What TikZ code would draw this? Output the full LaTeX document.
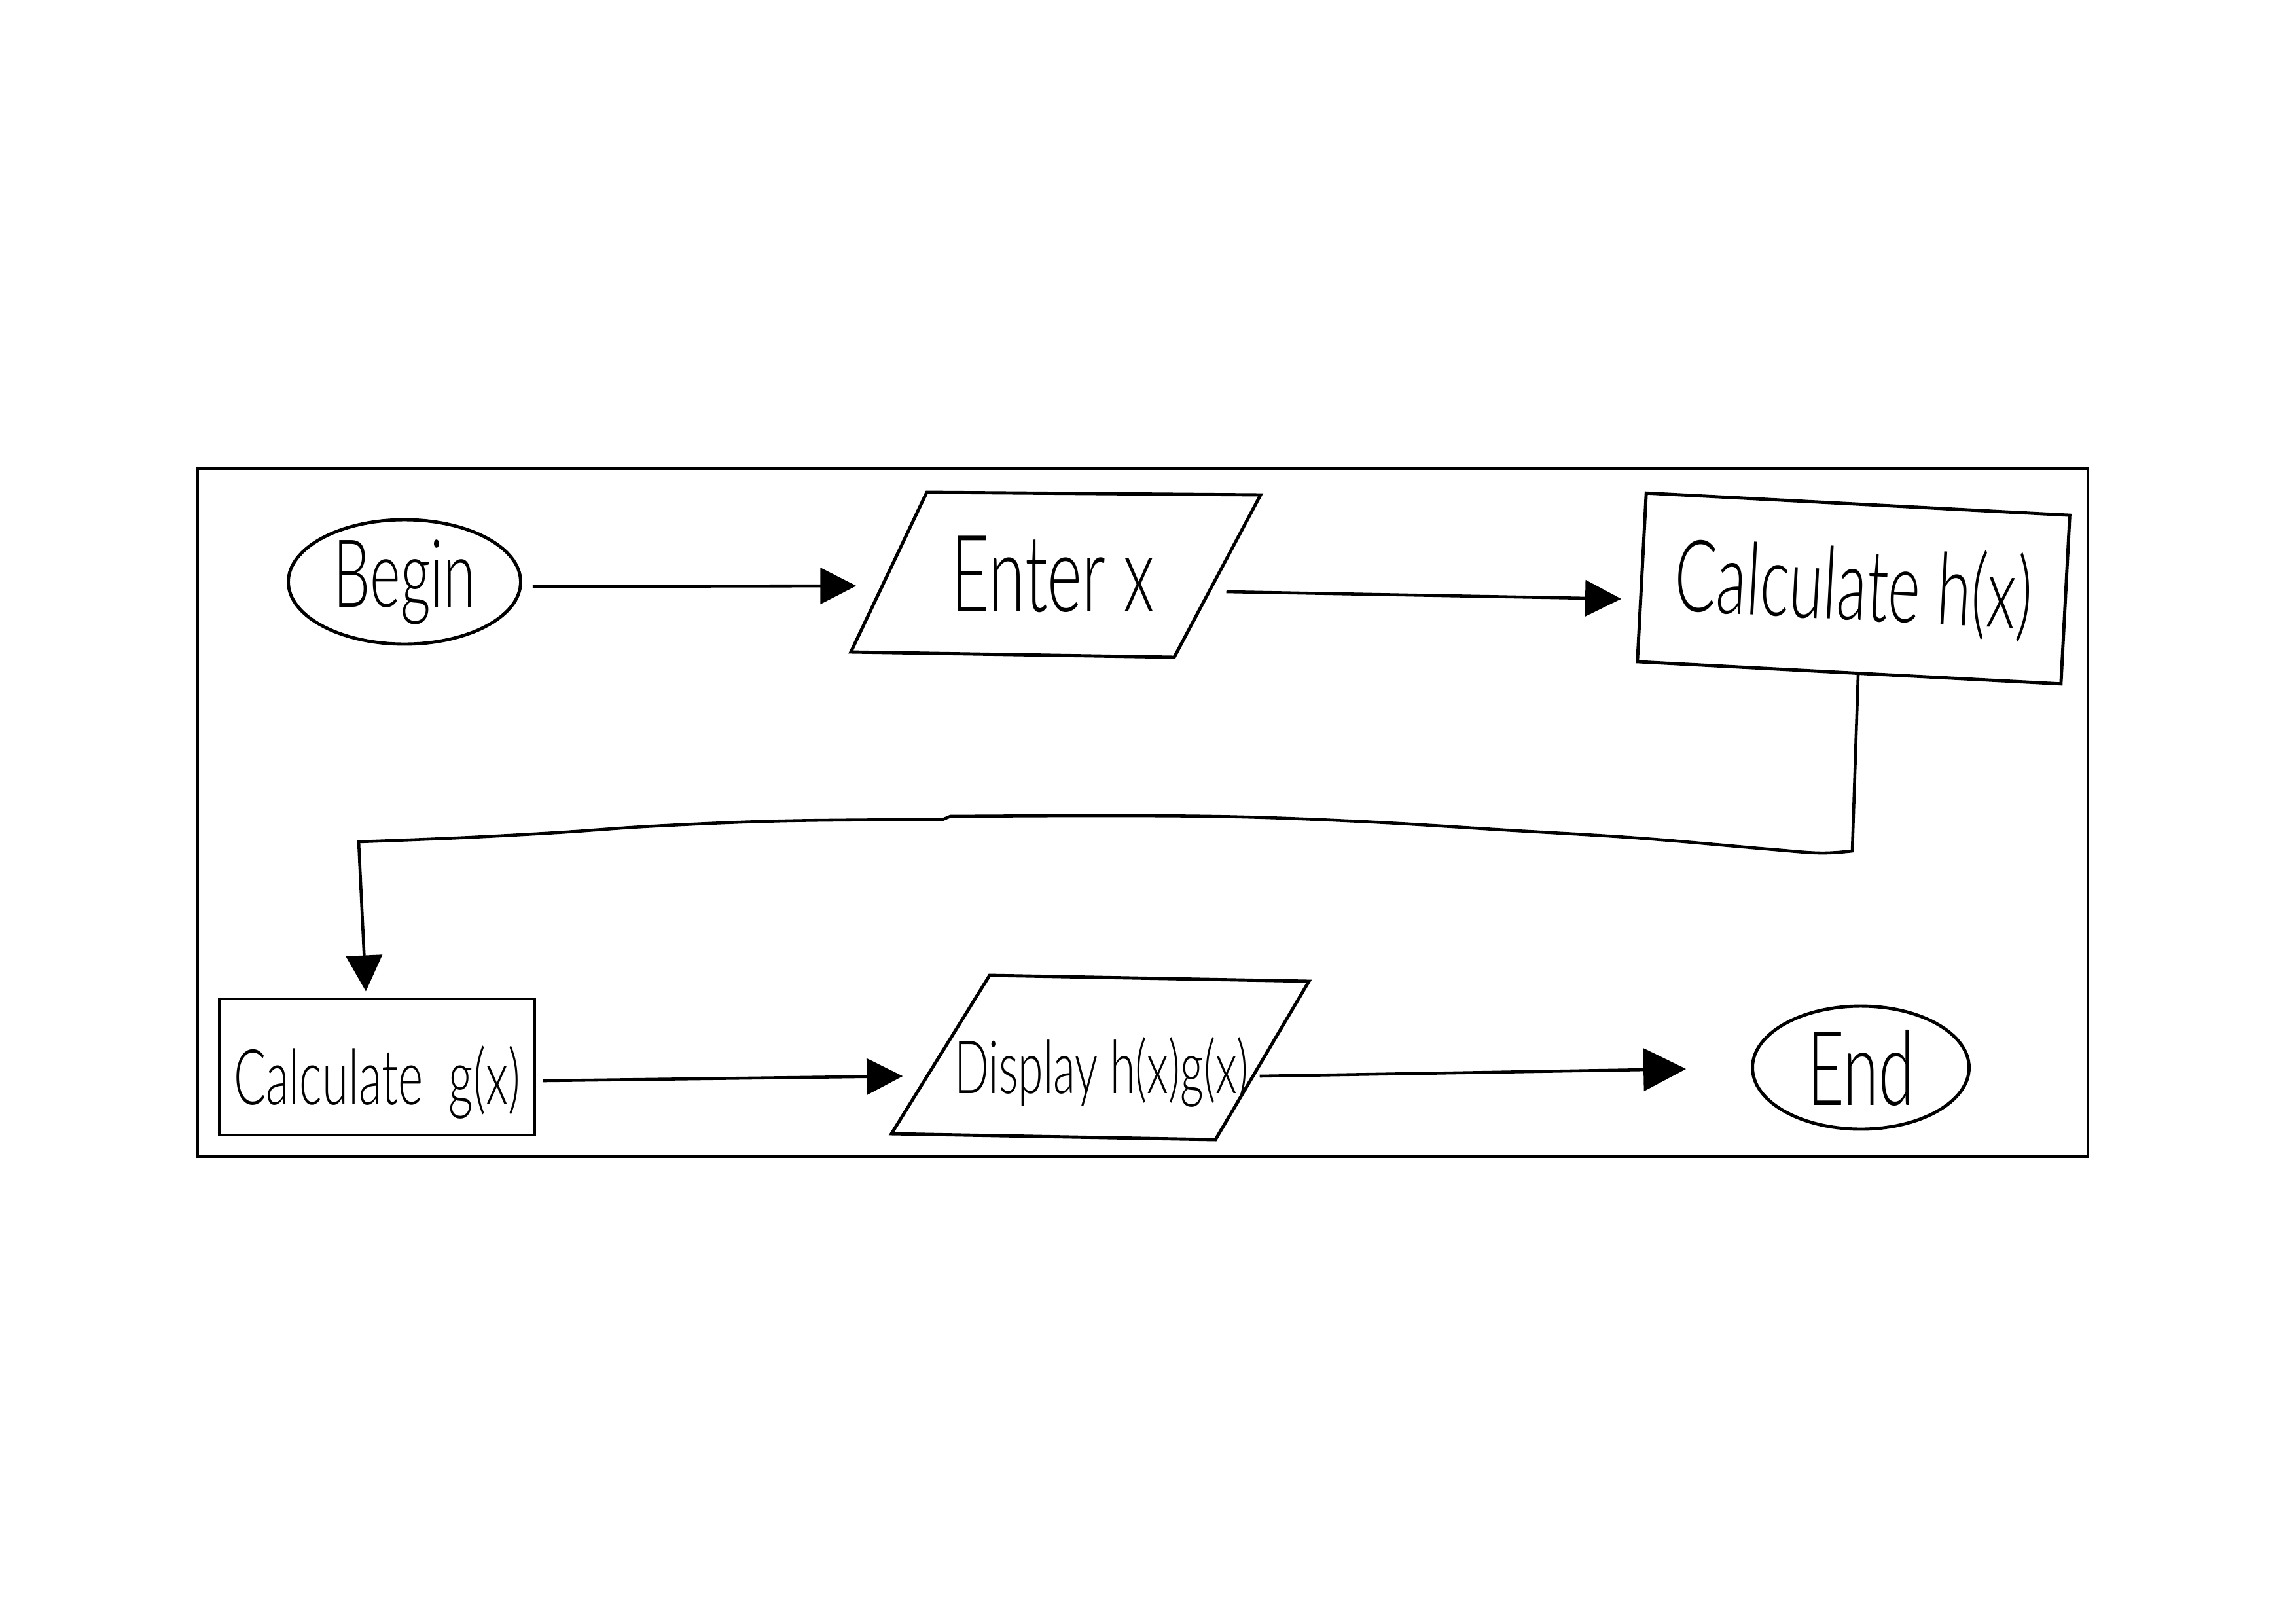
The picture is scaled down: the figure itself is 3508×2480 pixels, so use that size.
\documentclass[tikz,border=0pt]{standalone}
\usepackage{fontspec}
\newfontfamily\hand{Lato Light}[FakeStretch=0.62]
\usetikzlibrary{shapes.geometric,arrows.meta,calc}
\begin{document}
\begin{tikzpicture}[x=0.1mm,y=-0.1mm,
  ink/.style={line width=1.4pt,draw=black},
  term/.style={ink,ellipse,inner sep=0pt},
  iotext/.style={inner sep=0pt},
  procbox/.style={ink,rectangle,inner sep=0pt},
  arr/.style={line width=1.3pt,-{Triangle[length=5.5mm,width=5.5mm]}},
  bigarr/.style={line width=1.3pt,-{Triangle[length=6.5mm,width=6.5mm]}},
  lab/.style={font=\hand\fontsize{#1}{#1}\selectfont}
]
\useasboundingbox (0,0) rectangle (3508,2480);
\fill[white] (0,0) rectangle (3508,2480);
\draw[line width=1.3pt] (302,716) rectangle (3190,1767);

\node[term,minimum width=355*0.1mm,minimum height=190*0.1mm,lab=41pt] (begin) at (618,889) {Begin};
\node[iotext,minimum width=500*0.1mm,minimum height=248*0.1mm,lab=46.5pt] (enter) at (1609,877) {Enter x};
\draw[ink] (1416,752) -- (1926,756) -- (1794,1004) -- (1300,996) -- cycle;
\node[procbox,rotate=-3,minimum width=648*0.1mm,minimum height=258*0.1mm,lab=43.5pt] (calch) at (2832,899) {Calculate h(x)};
\node[procbox,minimum width=481*0.1mm,minimum height=208*0.1mm,lab=33.5pt] (calcg) at (576,1630) {\raisebox{-2.3mm}[\height][\depth]{Calculate\, g(x)}};
\node[iotext,minimum width=490*0.1mm,minimum height=247*0.1mm,lab=32pt] (display) at (1683,1615) {\raisebox{-2.3mm}[\height][\depth]{Display h(x)g(x)}};
\draw[ink] (1512,1490) -- (2000,1499) -- (1857,1741) -- (1362,1732) -- cycle;
\node[term,minimum width=331*0.1mm,minimum height=188*0.1mm,lab=45pt] (end) at (2843,1631) {End};

\draw[arr] ($(begin.east)+(16,7)$) -- ($(enter.west)+(-50,18)$);
\draw[arr] ($(enter.east)+(14,27)$) -- ($(calch.west)+(-29,33)$);
\draw[arr] ($(calch.south)+(14,-3)$) -- (2830,1300)
  -- plot[smooth,tension=0.6] coordinates {(2830,1300) (2780,1303) (2700,1297) (2500,1280) (2300,1268) (2100,1256) (1900,1248) (1700,1246) (1452,1247)}
  -- (1440,1252)
  -- plot[smooth,tension=0.6] coordinates {(1440,1252) (1200,1254) (1000,1262) (850,1272) (700,1280) (548,1286)}
  -- ($(calcg.north)+(-17,-9)$);
\draw[arr] ($(calcg.east)+(11,21)$) -- ($(display.west)+(-58,29)$);
\draw[bigarr] ($(display.east)+(-4,29)$) -- ($(end.west)+(-99,2)$);
\end{tikzpicture}
\end{document}
